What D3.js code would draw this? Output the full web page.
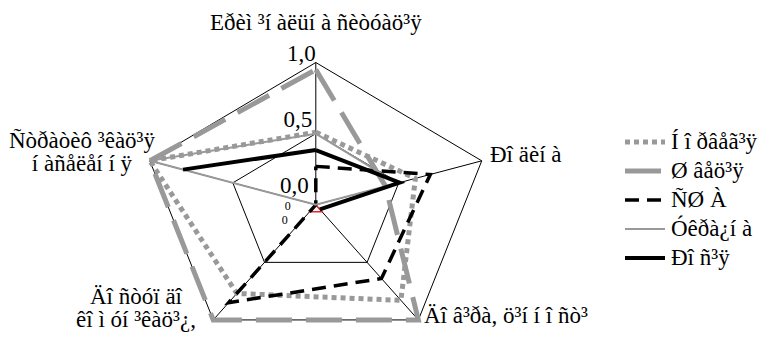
<!DOCTYPE html>
<html>
<head>
<meta charset="utf-8">
<script src="https://cdn.jsdelivr.net/npm/d3@7"></script>
<style>
  body { margin: 0; background: #fff; }
</style>
</head>
<body>
<script>
// axis categories (clockwise from top), each may span two lines
const categories = [
    ["Eðèì ³í àëüí à ñèòóàö³ÿ"],
    ["Ðî äèí à"],
    ["Äî â³ðà, ö³í í î ñò³"],
    ["Äî ñòóï  äî", "êî ì óí ³êàö³¿,"],
    ["Ñòðàòèô ³êàö³ÿ", "í àñåëåí í ÿ"]
]

const seriesNames = ["Í î ðâåã³ÿ", "Ø âåö³ÿ", "ÑØ À", "Óêðà¿í à", "Ðî ñ³ÿ"]

const norway = [0.51, 0.60, 0.83, 0.77, 1.0]
const sweden = [0.95, 0.42, 1.0, 1.0, 1.0]
const usa = [0.27, 0.69, 0.64, 0.85, 0.0]
const ukraine = [0.50, 0.49, 0.0, 0.0, 1.0]
const russia = [0.385, 0.505, 0.04, null, 0.80]

// two tiny series near the centre, not in the legend
const minorA = [0.0, 0.0, 0.0, 0.05, 0.0]
const minorB = [0.0, 0.0, 0.06, 0.06, 0.0]

const tickValues = [0.0, 0.5, 1.0]
const tickLabels = ["0,0", "0,5", "1,0"]
const zeroLabels = ["0", "0"]

const width = 765, height = 337
const cx = 315.8, cy = 204.8
const serif = '"Liberation Serif"'
const fontSize = '23px'

const svg = d3.select('body').append('svg')
    .attr('width', width)
    .attr('height', height)

const rX = d3.scaleLinear().domain([0, 1]).range([0, 174.5])
const rY = d3.scaleLinear().domain([0, 1]).range([0, 142.3])
const angle = d3.scaleLinear().domain([0, categories.length]).range([0, 2 * Math.PI])

const px = (i, v) => cx + rX(v) * Math.sin(angle(i))
const py = (i, v) => cy - rY(v) * Math.cos(angle(i))

const idx = d3.range(categories.length)

// grid rings
const ring = d3.line().x(d => px(d[0], d[1])).y(d => py(d[0], d[1]))
tickValues.filter(t => t > 0).forEach(t => {
    svg.append('path')
        .attr('d', ring(idx.concat([0]).map(i => [i, t])))
        .attr('fill', 'none')
        .attr('stroke', '#000')
        .attr('stroke-width', 1)
})

// spokes
svg.selectAll('.spoke').data(idx)
    .enter()
    .append('line')
    .attr('x1', cx).attr('y1', cy)
    .attr('x2', i => px(i, 1)).attr('y2', i => py(i, 1))
    .attr('stroke', '#000')
    .attr('stroke-width', 1)

// tick labels on the top axis
svg.selectAll('.tick').data(tickValues)
    .enter()
    .append('text')
    .attr('x', t => px(0, t) - 7 * (1 - t))
    .attr('y', t => py(0, t) - 12 + 10 * t)
    .attr('text-anchor', 'end')
    .style('font-family', serif)
    .style('font-size', fontSize)
    .text((t, k) => tickLabels[k])

// series
const series = [
    { values: minorA, color: '#2233dd', width: 1.5, dash: null },
    { values: minorB, color: '#ee2222', width: 1.5, dash: null },
    { values: norway, color: '#999999', width: 5, dash: '5,4' },
    { values: sweden, color: '#999999', width: 5, dash: '36,14' },
    { values: usa, color: '#000000', width: 3.5, dash: '14,8' },
    { values: ukraine, color: '#999999', width: 2, dash: null },
    { values: russia, color: '#000000', width: 4, dash: null }
]

const radarLine = d3.line()
    .defined(d => d[1] != null)
    .x(d => px(d[0], d[1]))
    .y(d => py(d[0], d[1]))

series.forEach(s => {
    const pts = s.values.map((v, i) => [i, v])
    pts.push([0, s.values[0]])
    svg.append('path')
        .attr('d', radarLine(pts))
        .attr('fill', 'none')
        .attr('stroke', s.color)
        .attr('stroke-width', s.width)
        .attr('stroke-dasharray', s.dash)
        .attr('stroke-miterlimit', 3)
})

// small zero value labels near the centre
svg.selectAll('.zero').data(zeroLabels)
    .enter()
    .append('text')
    .attr('x', (d, k) => cx - 31 - 3 * k)
    .attr('y', (d, k) => cy + 5 + 14 * k)
    .attr('fill', '#000')
    .style('font-family', serif)
    .style('font-size', '12px')
    .text(d => d)

// category labels
const labelPos = [
    { x: cx, y: 30, anchor: 'middle' },
    { x: 490, y: 162, anchor: 'start' },
    { x: 424, y: 323, anchor: 'start' },
    { x: 136, y: 304, anchor: 'middle' },
    { x: 82, y: 148, anchor: 'middle' }
]

categories.forEach((lines, i) => {
    const t = svg.append('text')
        .attr('text-anchor', labelPos[i].anchor)
        .style('font-family', serif)
        .style('font-size', fontSize)
    lines.forEach((ln, k) => {
        t.append('tspan')
            .attr('x', labelPos[i].x)
            .attr('y', labelPos[i].y + 23 * k)
            .text(ln)
    })
})

// legend
const legend = svg.append('g').attr('transform', 'translate(625,142)')
const legendSeries = series.slice(2)

legendSeries.forEach((s, k) => {
    legend.append('line')
        .attr('x1', 0).attr('x2', 40)
        .attr('y1', k * 29).attr('y2', k * 29)
        .attr('stroke', s.color)
        .attr('stroke-width', s.width)
        .attr('stroke-dasharray', s.dash)

    legend.append('text')
        .attr('x', 46)
        .attr('y', k * 29 + 7)
        .style('font-family', serif)
        .style('font-size', fontSize)
        .text(seriesNames[k])
})
</script>
</body>
</html>
